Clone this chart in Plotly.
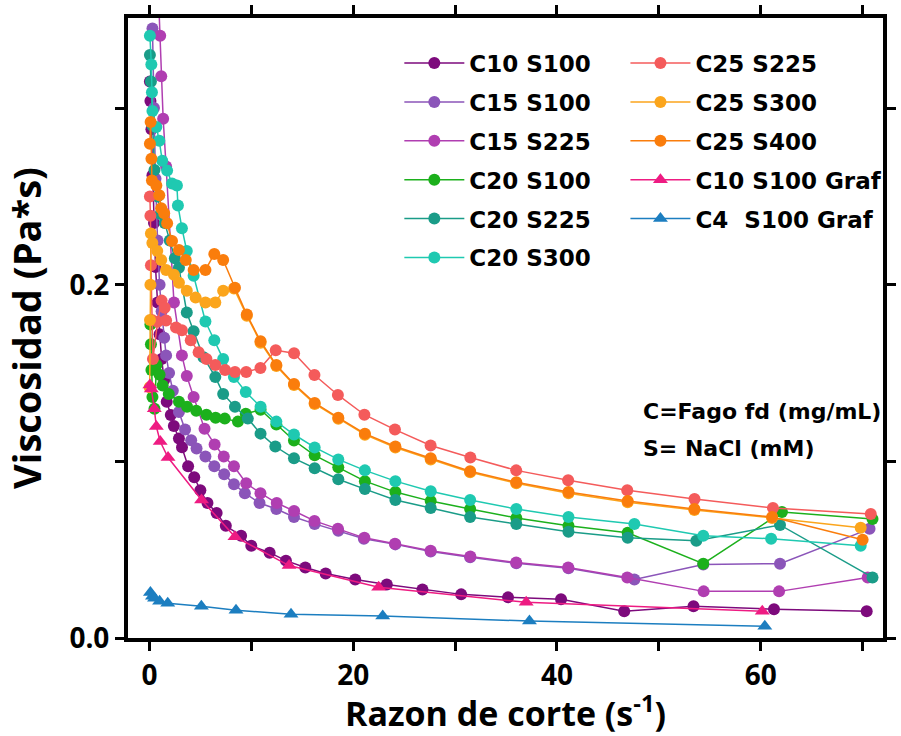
import plotly.graph_objects as go

# ---------------- data ----------------
c10_s100_x = [0.05, 0.1, 0.2, 0.3, 0.45, 0.6, 0.8, 1.0, 1.2, 1.45, 1.7, 2.1, 2.4, 2.9, 3.2, 3.8, 4.4, 5.0,
              5.7, 6.6, 7.5, 9.0, 10.0, 11.8, 13.4, 15.3, 17.3, 20.2, 23.3, 26.8, 30.6, 35.2, 40.4, 46.6,
              53.4, 61.3, 70.4]
c10_s100_y = [0.315, 0.304, 0.288, 0.262, 0.235, 0.210, 0.190, 0.172, 0.158, 0.146, 0.1337, 0.1263, 0.120,
              0.113, 0.108, 0.0972, 0.091, 0.0837, 0.0764, 0.0708, 0.0635, 0.0579, 0.0522, 0.0483, 0.0438,
              0.0399, 0.0365, 0.0331, 0.0303, 0.0275, 0.0247, 0.0230, 0.0219, 0.0152, 0.0180, 0.0163, 0.0152]

c15_s100_x = [0.3, 0.45, 0.6, 0.8, 1.0, 1.2, 1.45, 1.64, 1.93, 2.3, 2.9, 3.5, 4.1, 4.63, 5.5, 6.37, 7.34, 8.3,
              9.37, 10.81, 12.46, 14.19, 16.22, 18.54, 21.05, 24.14, 27.61, 31.48, 36.01, 41.13, 47.6,
              54.36, 61.89, 70.68]
c15_s100_y = [0.345, 0.300, 0.260, 0.225, 0.200, 0.185, 0.170, 0.160, 0.150, 0.140, 0.128, 0.118, 0.112,
              0.1073, 0.1028, 0.0972, 0.0927, 0.0871, 0.0820, 0.0764, 0.0730, 0.0685, 0.0646, 0.0607,
              0.0562, 0.0530, 0.0490, 0.0457, 0.0423, 0.0395, 0.0331, 0.0416, 0.0421, 0.0618]

c15_s225_x = [0.85, 1.06, 1.16, 1.35, 1.64, 2.41, 3.19, 3.67, 4.34, 5.41, 6.4, 7.3, 8.3, 9.5, 10.9, 12.5,
              14.2, 16.2, 18.5, 21.1, 24.1, 27.6, 31.5, 36.0, 41.1, 46.9, 54.4, 61.8, 70.5]
c15_s225_y = [0.370, 0.341, 0.318, 0.294, 0.267, 0.190, 0.160, 0.1483, 0.1365, 0.1185, 0.1096, 0.1028,
              0.0972, 0.0876, 0.0820, 0.0764, 0.0719, 0.0663, 0.0618, 0.0567, 0.0534, 0.0494, 0.0461,
              0.0427, 0.0399, 0.0343, 0.0264, 0.0264, 0.0343]

c20_s100_x = [0.1, 0.15, 0.2, 0.3, 0.5, 0.7, 1.0, 1.3, 1.9, 2.9, 3.7, 4.6, 5.6, 6.5, 7.4, 8.69, 9.46, 10.91,
              12.46, 14.19, 16.22, 18.54, 21.15, 24.14, 27.61, 31.48, 36.01, 41.13, 46.94, 54.36, 62.08, 70.97]
c20_s100_y = [0.1775, 0.1663, 0.1517, 0.1365, 0.1298, 0.1545, 0.149, 0.143, 0.1382, 0.1337, 0.1309,
              0.1287, 0.1264, 0.1247, 0.1242, 0.1225, 0.1270, 0.1292, 0.1208, 0.1118, 0.1034, 0.0966,
              0.0888, 0.0826, 0.0775, 0.0730, 0.0680, 0.0635, 0.0596, 0.0421, 0.0713, 0.0674]

c20_s225_x = [0.05, 0.15, 0.3, 0.5, 0.8, 1.1, 1.5, 2.0, 2.5, 2.9, 3.67, 4.34, 5.31, 6.47, 7.24, 8.4, 9.66,
              10.91, 12.36, 14.19, 16.22, 18.54, 21.15, 24.14, 27.61, 31.48, 36.01, 41.13, 46.94, 53.68,
              61.89, 70.97]
c20_s225_y = [0.330, 0.315, 0.290, 0.265, 0.250, 0.240, 0.235, 0.225, 0.215, 0.2096, 0.1843, 0.1736,
              0.1590, 0.1478, 0.1382, 0.1309, 0.1242, 0.1157, 0.1084, 0.1017, 0.0961, 0.0899, 0.0843,
              0.0781, 0.0736, 0.0685, 0.0646, 0.0601, 0.0567, 0.0551, 0.0640, 0.0343]

c20_s300_x = [0.05, 0.19, 0.25, 0.3, 0.68, 0.97, 1.26, 1.74, 2.22, 2.7, 2.8, 3.19, 3.67, 4.34, 5.5, 6.37,
              7.24, 8.3, 9.46, 10.91, 12.46, 14.19, 16.22, 18.54, 21.15, 24.14, 27.61, 31.48, 36.01,
              41.13, 47.6, 54.36, 61.02, 69.81]
c20_s300_y = [0.341, 0.3247, 0.309, 0.2983, 0.2893, 0.2815, 0.2702, 0.2646, 0.2573, 0.2562, 0.2449,
              0.2320, 0.2191, 0.2051, 0.1792, 0.1685, 0.1579, 0.1478, 0.1393, 0.1309, 0.1225, 0.1152,
              0.1079, 0.1011, 0.0949, 0.0888, 0.0831, 0.0781, 0.0730, 0.0685, 0.0646, 0.0579, 0.0562,
              0.0522]

c25_s225_x = [0.05, 0.1, 0.15, 0.25, 0.35, 0.8, 1.2, 1.5, 1.64, 2.61, 3.19, 4.06, 4.83, 5.6, 6.47, 7.43,
              8.4, 9.5, 10.9, 12.4, 14.2, 16.2, 18.5, 21.1, 24.1, 27.6, 31.5, 36.0, 41.1, 46.9, 53.5,
              61.2, 70.8]
c25_s225_y = [0.250, 0.239, 0.211, 0.180, 0.158, 0.179, 0.191, 0.187, 0.1798, 0.1758, 0.1742, 0.1685,
              0.1618, 0.1579, 0.1545, 0.1517, 0.1506, 0.1506, 0.1528, 0.1629, 0.1612, 0.1489, 0.1376,
              0.1264, 0.1180, 0.1090, 0.1022, 0.0949, 0.0893, 0.0837, 0.0787, 0.0736, 0.0702]

c25_s300_x = [0.03, 0.06, 0.1, 0.15, 0.29, 0.77, 1.16, 1.64, 2.41, 2.9, 3.67, 4.54, 5.5, 6.47, 7.24, 8.3,
              9.56, 10.91, 12.46, 14.19, 16.22, 18.54, 21.15, 24.14, 27.61, 31.48, 36.01, 41.13, 46.94,
              53.49, 61.12, 69.81]
c25_s300_y = [0.142, 0.180, 0.200, 0.229, 0.2236, 0.2191, 0.2140, 0.2084, 0.2056, 0.2011, 0.1966,
              0.1927, 0.1899, 0.1899, 0.1966, 0.1978, 0.1825, 0.1672, 0.1540, 0.1432, 0.1325, 0.1241,
              0.1151, 0.1078, 0.1011, 0.0938, 0.0876, 0.0820, 0.0769, 0.0725, 0.0680, 0.0624]

c25_s400_x = [0.05, 0.12, 0.2, 0.25, 0.68, 0.97, 1.16, 1.45, 1.74, 2.22, 2.9, 3.57, 4.34, 5.5, 6.37, 7.24,
              8.4, 9.56, 10.91, 12.46, 14.19, 16.22, 18.54, 21.15, 24.14, 27.61, 31.48, 36.01, 41.13,
              46.94, 53.49, 61.12, 70.0]
c25_s400_y = [0.2798, 0.2921, 0.2713, 0.2590, 0.2562, 0.2506, 0.2433, 0.2404, 0.2348, 0.2247, 0.2197,
              0.2140, 0.2084, 0.2084, 0.2174, 0.2140, 0.1983, 0.1831, 0.1680, 0.1545, 0.1438, 0.1331,
              0.1247, 0.1157, 0.1084, 0.1017, 0.0944, 0.0882, 0.0826, 0.0775, 0.0730, 0.0685, 0.0556]

c10_s100_graf_x = [0.05, 0.19, 0.48, 0.68, 1.06, 1.83, 5.12, 8.4, 13.71, 22.5, 36.98, 60.15]
c10_s100_graf_y = [0.1433, 0.141, 0.1298, 0.1197, 0.1112, 0.1022, 0.0781, 0.0573, 0.041, 0.0287, 0.0202,
                   0.0152]

c4_s100_graf_x = [0.1, 0.3, 0.5, 1.0, 1.8, 5.1, 8.5, 13.9, 22.9, 37.3, 60.4]
c4_s100_graf_y = [0.0258, 0.0236, 0.0225, 0.0208, 0.0197, 0.0180, 0.0157, 0.0135, 0.0124, 0.0096, 0.0067]

x_major_ticks = [0, 20, 40, 60]
x_minor_ticks = [10, 30, 50, 70]
y_major_ticks = [0.0, 0.2]
y_minor_ticks = [0.1, 0.3]

note_lines = ["C=Fago fd (mg/mL)", "S= NaCl (mM)"]
note_y = [0.1281, 0.1073]

# ---------------- figure ----------------
FONT = "Open Sans"
LFONT = "DejaVu Sans"
series = [
    ("C10 S100", c10_s100_x, c10_s100_y, "#7d0a7c", "circle", "legend"),
    ("C15 S100", c15_s100_x, c15_s100_y, "#8b55b9", "circle", "legend"),
    ("C15 S225", c15_s225_x, c15_s225_y, "#b03eb1", "circle", "legend"),
    ("C20 S100", c20_s100_x, c20_s100_y, "#1cb01c", "circle", "legend"),
    ("C20 S225", c20_s225_x, c20_s225_y, "#1a9c88", "circle", "legend"),
    ("C20 S300", c20_s300_x, c20_s300_y, "#1fc9b1", "circle", "legend"),
    ("C25 S225", c25_s225_x, c25_s225_y, "#f45b5b", "circle", "legend2"),
    ("C25 S300", c25_s300_x, c25_s300_y, "#fba51c", "circle", "legend2"),
    ("C25 S400", c25_s400_x, c25_s400_y, "#fa7d0c", "circle", "legend2"),
    ("C10 S100 Graf", c10_s100_graf_x, c10_s100_graf_y, "#ee1b82", "triangle-up", "legend2"),
    ("C4  S100 Graf", c4_s100_graf_x, c4_s100_graf_y, "#1c7ec0", "triangle-up", "legend2"),
]

fig = go.Figure()
for i, (name, xs, ys, col, sym, leg) in enumerate(series):
    fig.add_trace(go.Scatter(
        x=xs, y=ys, mode="lines+markers", name=name.replace("  ", "\u00a0\u00a0"),
        line=dict(color=col, width=1.5),
        marker=dict(symbol=sym, size=12 if sym == "circle" else 13, color=col),
        legend=leg, legendgroup=name, legendrank=i,
    ))

legend_common = dict(
    font=dict(family=LFONT, size=23, color="black", weight="bold"),
    bgcolor="rgba(0,0,0,0)", borderwidth=0, tracegroupgap=6,
    xanchor="left", yanchor="top", itemwidth=60,
)
axis_common = dict(
    showline=True, linecolor="black", linewidth=4, mirror="ticks",
    ticks="outside", ticklen=9, tickwidth=3, tickcolor="black",
    showgrid=False, zeroline=False,
    tickfont=dict(family=FONT, size=28, color="black", weight="bold"),
)
fig.update_layout(
    width=901, height=736,
    margin=dict(l=128, r=5, t=13, b=98),
    paper_bgcolor="white", plot_bgcolor="white",
    font=dict(family=FONT, color="black"),
    legend=dict(x=(404 - 128) / 768, y=0.962, **legend_common),
    legend2=dict(x=(634 - 128) / 768, y=0.962, **legend_common),
    xaxis=dict(
        range=[-2.1, 72.0], tickmode="array", tickvals=x_major_ticks,
        minor=dict(tickmode="array", tickvals=x_minor_ticks, ticks="outside", ticklen=9,
                   tickwidth=3, tickcolor="black", showgrid=False),
        title=dict(text="Razon de corte (s<sup>-1</sup>)", standoff=12,
                   font=dict(family=FONT, size=34, color="black", weight="bold")),
        **axis_common,
    ),
    yaxis=dict(
        range=[0.0, 0.351], tickmode="array", tickvals=y_major_ticks, tickformat=".1f",
        minor=dict(tickmode="array", tickvals=y_minor_ticks, ticks="outside", ticklen=9,
                   tickwidth=3, tickcolor="black", showgrid=False),
        title=dict(text="Viscosidad (Pa*s)", standoff=19,
                   font=dict(family=FONT, size=38, color="black", weight="bold")),
        **axis_common,
    ),
)
for txt, yy in zip(note_lines, note_y):
    fig.add_annotation(text=txt, x=(650 - 128) / 768, y=yy, xref="paper", yref="y",
                       showarrow=False, align="left", xanchor="left", yanchor="middle",
                       font=dict(family=LFONT, size=22, color="black", weight="bold"))

fig.write_html("out.html")
